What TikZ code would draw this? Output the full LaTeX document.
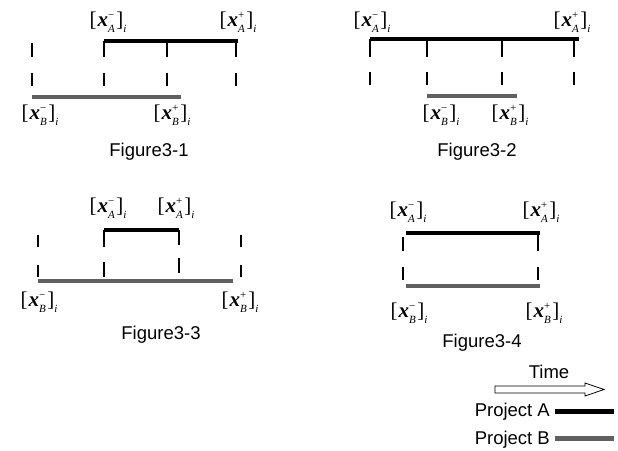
\documentclass[tikz,border=0pt]{standalone}
\usepackage{fontspec}
\setmainfont{Liberation Serif}
\newfontfamily\arialf{Liberation Sans}
\newcommand{\smallsz}{\fontsize{11}{11}\selectfont}
\newcommand{\xlab}[2]{{\fontsize{21}{22}\selectfont[\kern1pt\textbf{\textit{x}}\makebox[0pt][l]{\raisebox{0.8ex}{\smallsz #1}}\raisebox{-0.6ex}{\smallsz\textit{#2}}\kern1.5pt]\raisebox{-0.6ex}{\smallsz\textit{i}}}}
\definecolor{gray60}{HTML}{606060}
\begin{document}
\begin{tikzpicture}[x=1pt,y=-1pt,
  abar/.style={line width=4pt,black},
  bbar/.style={line width=4pt,color=gray60},
  tick/.style={line width=1.8pt,black},
  lab/.style={inner sep=0pt},
  captxt/.style={font=\arialf\fontsize{18.5}{19}\selectfont,inner sep=0pt}]
\useasboundingbox (0,0) rectangle (618,450);
% Figure 3-1
\draw[abar] (104,41) -- (238,41);
\draw[tick] (32,43) -- (32,57) (104,41) -- (104,57) (167,41) -- (167,57) (236,41) -- (236,57);
\draw[tick] (32,73) -- (32,86) (104,73) -- (104,86) (167,73) -- (167,86) (236,73) -- (236,86);
\draw[bbar] (32,97) -- (181,97);
\node[lab] (a1m) at (108,22) {\xlab{−}{A}};
\node[lab] (a1p) at (238,22) {\xlab{+}{A}};
\node[lab] (b1m) at (40,115) {\xlab{−}{B}};
\node[lab] (b1p) at (172,115) {\xlab{+}{B}};
\node[captxt] (f1) at (149,152) {Figure3-1};
% Figure 3-2
\draw[abar] (370,39) -- (579,39);
\draw[tick] (370,39) -- (370,57) (427,39) -- (427,57) (502,39) -- (502,57) (574,39) -- (574,57);
\draw[tick] (370,72) -- (370,85) (427,72) -- (427,85) (502,72) -- (502,85) (574,72) -- (574,85);
\draw[bbar] (427,96) -- (517,96);
\node[lab] (a2m) at (372,22) {\xlab{−}{A}};
\node[lab] (a2p) at (572,22) {\xlab{+}{A}};
\node[lab] (b2m) at (441,115) {\xlab{−}{B}};
\node[lab] (b2p) at (510,115) {\xlab{+}{B}};
\node[captxt] (f2) at (477,152) {Figure3-2};
% Figure 3-3
\draw[abar] (104,230) -- (179,230);
\draw[tick] (38,235) -- (38,247) (104,230) -- (104,247) (179,230) -- (179,245) (241,235) -- (241,247);
\draw[tick] (38,265) -- (38,277) (104,262) -- (104,277) (179,258) -- (179,273) (241,265) -- (241,277);
\draw[bbar] (38,281) -- (233,281);
\node[lab] (a3m) at (108,208) {\xlab{−}{A}};
\node[lab] (a3p) at (176,208) {\xlab{+}{A}};
\node[lab] (b3m) at (39,302) {\xlab{−}{B}};
\node[lab] (b3p) at (240,302) {\xlab{+}{B}};
\node[captxt] (f3) at (161,335) {Figure3-3};
% Figure 3-4
\draw[abar] (406,233) -- (540,233);
\draw[tick] (403,237) -- (403,251) (538,235) -- (538,251);
\draw[tick] (403,267) -- (403,280) (538,267) -- (538,280);
\draw[bbar] (406,286) -- (540,286);
\node[lab] (a4m) at (408,212) {\xlab{−}{A}};
\node[lab] (a4p) at (541,212) {\xlab{+}{A}};
\node[lab] (b4m) at (409,313) {\xlab{−}{B}};
\node[lab] (b4p) at (544,313) {\xlab{+}{B}};
\node[captxt] (f4) at (482,343) {Figure3-4};
% Legend
\node[captxt] (time) at (549,372) {Time};
\draw[line width=0.8pt,fill=white] (495,386) -- (585,386) -- (585,383) -- (604,389.5) -- (585,396) -- (585,393) -- (495,393) -- cycle;
\node[captxt,anchor=east] (pa) at (550,412) {Project A};
\draw[line width=5pt,black] (555,411) -- (614,411);
\node[captxt,anchor=east] (pb) at (550,440) {Project B};
\draw[line width=5pt,color=gray60] (555,438) -- (614,438);
\end{tikzpicture}
\end{document}
